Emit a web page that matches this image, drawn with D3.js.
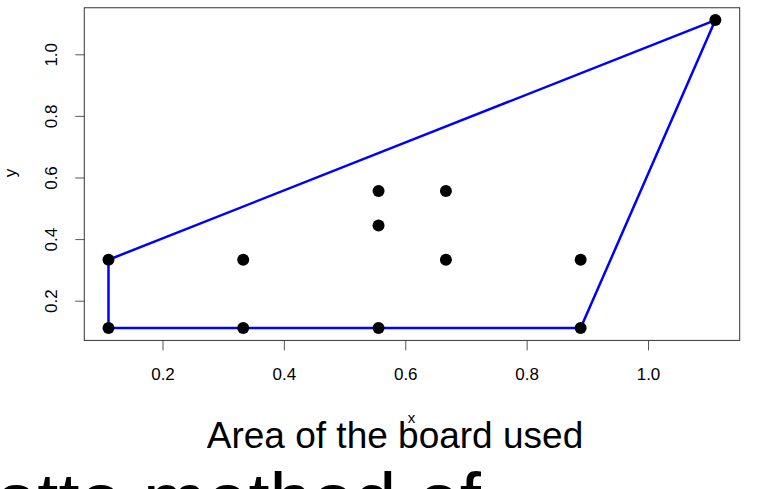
<!DOCTYPE html>
<html>
<head>
<meta charset="utf-8">
<script src="https://cdn.jsdelivr.net/npm/d3@7"></script>
<style>
	body { margin: 0; background: #fff; }
	svg { display: block; font-family: "Liberation Sans", Arial, sans-serif; }
</style>
</head>
<body>
<svg id="chart"></svg>
<script>
const xValues = [0.111, 0.333, 0.556, 0.889, 0.111, 0.333, 0.667, 0.889, 0.556, 0.556, 0.667, 1.111];
const yValues = [0.111, 0.111, 0.111, 0.111, 0.333, 0.333, 0.333, 0.333, 0.444, 0.556, 0.556, 1.111];
const xTicks = [0.2, 0.4, 0.6, 0.8, 1.0];
const yTicks = [0.2, 0.4, 0.6, 0.8, 1.0];
const xDomain = [0.0711, 1.1511];
const yDomain = [0.0711, 1.1511];

const FONT = '"Liberation Sans", Arial, sans-serif';

function buildPoints() {
	return xValues.map((x, i) => [x, yValues[i]]);
}

function constructPlot(points) {
	const chart = d3.select('#chart')
		.attr('width', 767)
		.attr('height', 489);

	const x = d3.scaleLinear().domain([0.2, 1.0]).range([162.5, 648]);
	const y = d3.scaleLinear().domain([0.2, 1.0]).range([300.7, 54.3]);

	const left = x(xDomain[0]);
	const right = x(xDomain[1]);
	const top = y(yDomain[1]);
	const bottom = y(yDomain[0]);

	// axes, R style: ticks only, no domain line
	const xAxis = chart.append('g')
		.attr('transform', `translate(0,${bottom})`)
		.call(d3.axisBottom(x).tickValues(xTicks).tickSize(10).tickPadding(14)
			.tickFormat(d3.format('.1f')));
	xAxis.select('.domain').remove();
	xAxis.selectAll('line').attr('stroke', '#555');
	xAxis.selectAll('text')
		.attr('font-size', 17)
		.attr('fill', '#000')
		.attr('font-family', FONT)
		.attr('y', 40).attr('dy', null);

	const yAxis = chart.append('g')
		.attr('transform', `translate(${left},0)`)
		.call(d3.axisLeft(y).tickValues(yTicks).tickSize(9)
			.tickFormat(d3.format('.1f')));
	yAxis.select('.domain').remove();
	yAxis.selectAll('line').attr('stroke', '#555');
	yAxis.selectAll('text')
		.attr('font-size', 17)
		.attr('fill', '#000')
		.attr('font-family', FONT)
		.attr('x', null).attr('dy', null)
		.attr('text-anchor', 'middle')
		.attr('transform', `translate(${57 - left},0) rotate(-90)`);

	// box
	chart.append('rect')
		.attr('x', left).attr('y', top)
		.attr('width', right - left).attr('height', bottom - top)
		.attr('fill', 'none').attr('stroke', '#333').attr('stroke-width', 1);

	// convex hull
	const hull = d3.polygonHull(points);
	chart.append('path')
		.attr('d', d3.line().x(d => x(d[0])).y(d => y(d[1]))(hull) + 'Z')
		.attr('fill', 'none')
		.attr('stroke', '#0000ff')
		.attr('stroke-width', 2.5)
		.attr('stroke-linejoin', 'round');

	chart.selectAll('circle')
		.data(points)
		.enter()
		.append('circle')
		.attr('cx', d => x(d[0]))
		.attr('cy', d => y(d[1]))
		.attr('r', 6)
		.attr('fill', '#000');

	// axis titles
	chart.append('text')
		.attr('x', 411.5).attr('y', 423)
		.attr('text-anchor', 'middle')
		.attr('font-size', 15)
		.text('x');
	chart.append('text')
		.attr('transform', 'translate(16,173) rotate(-90)')
		.attr('text-anchor', 'middle')
		.attr('font-size', 17)
		.text('y');

	// overlaid captions
	chart.append('text')
		.attr('x', 395).attr('y', 448)
		.attr('text-anchor', 'middle')
		.attr('font-size', 37)
		.text('Area of the board used');
	chart.append('text')
		.attr('x', -5).attr('y', 526)
		.attr('font-size', 76)
		.text('otto method of');
}

document.addEventListener('DOMContentLoaded', () => {
	constructPlot(buildPoints());
});
</script>
</body>
</html>
